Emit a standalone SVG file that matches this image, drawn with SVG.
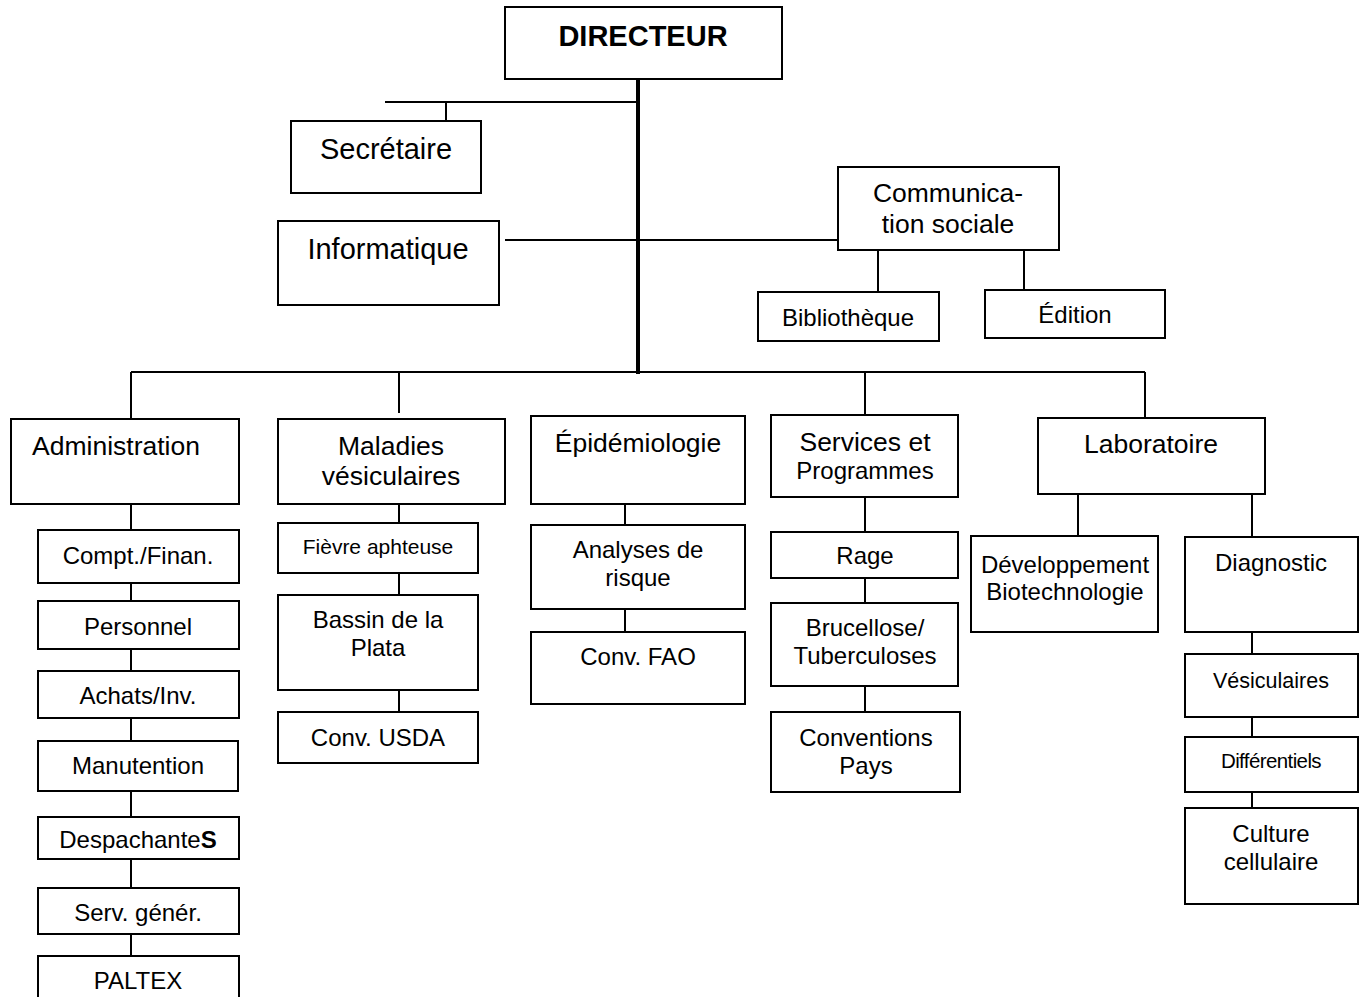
<svg xmlns="http://www.w3.org/2000/svg" width="1365" height="997" viewBox="0 0 1365 997">
<style>
rect{fill:#fff;stroke:#000;stroke-width:2}
text{font-family:"Liberation Sans",Arial,sans-serif;fill:#000;text-anchor:middle}
.x{font-size:29px}
.l{font-size:26.5px}
.m{font-size:24px}
.s{font-size:21.5px}
#conn line{stroke:#000;stroke-width:2}
</style>
<rect x="0" y="0" width="1365" height="997" style="fill:#fff;stroke:none"/>
<g id="conn">
<line x1="638" y1="80" x2="638" y2="374" style="stroke-width:4"/>
<line x1="385" y1="102" x2="638" y2="102"/>
<line x1="446" y1="102" x2="446" y2="121"/>
<line x1="505" y1="240" x2="838" y2="240"/>
<line x1="878" y1="250" x2="878" y2="292"/>
<line x1="1024" y1="250" x2="1024" y2="290"/>
<line x1="131" y1="372" x2="1145" y2="372"/>
<line x1="131" y1="372" x2="131" y2="419"/>
<line x1="399" y1="372" x2="399" y2="413"/>
<line x1="865" y1="372" x2="865" y2="415"/>
<line x1="1145" y1="372" x2="1145" y2="418"/>
<line x1="131" y1="504" x2="131" y2="956"/>
<line x1="399" y1="504" x2="399" y2="712"/>
<line x1="625" y1="504" x2="625" y2="632"/>
<line x1="865" y1="497" x2="865" y2="712"/>
<line x1="1078" y1="494" x2="1078" y2="536"/>
<line x1="1252" y1="494" x2="1252" y2="537"/>
<line x1="1252" y1="632" x2="1252" y2="808"/>
</g>
<g id="directeur"><rect x="505" y="7" width="277" height="72"/><text class="x" x="643" y="46" style="font-weight:bold">DIRECTEUR</text></g>
<g id="secretaire"><rect x="291" y="121" width="190" height="72"/><text class="x" x="386" y="159">Secrétaire</text></g>
<g id="informatique"><rect x="278" y="221" width="221" height="84"/><text class="x" x="388" y="259">Informatique</text></g>
<g id="communication"><rect x="838" y="167" width="221" height="83"/><text class="l" x="948" y="202">Communica-</text><text class="l" x="948" y="233">tion sociale</text></g>
<g id="bibliotheque"><rect x="758" y="292" width="181" height="49"/><text class="m" x="848" y="326">Bibliothèque</text></g>
<g id="edition"><rect x="985" y="290" width="180" height="48"/><text class="m" x="1075" y="323">Édition</text></g>
<g id="administration"><rect x="11" y="419" width="228" height="85"/><text class="l" x="116" y="455">Administration</text></g>
<g id="maladies"><rect x="278" y="419" width="227" height="85"/><text class="l" x="391" y="455">Maladies</text><text class="l" x="391" y="485">vésiculaires</text></g>
<g id="epidemiologie"><rect x="531" y="416" width="214" height="88"/><text class="l" x="638" y="452">Épidémiologie</text></g>
<g id="services"><rect x="771" y="415" width="187" height="82"/><text class="l" x="865" y="451">Services et</text><text class="m" x="865" y="479">Programmes</text></g>
<g id="laboratoire"><rect x="1038" y="418" width="227" height="76"/><text class="l" x="1151" y="453">Laboratoire</text></g>
<g id="compt"><rect x="38" y="530" width="201" height="53"/><text class="m" x="138" y="564">Compt./Finan.</text></g>
<g id="personnel"><rect x="38" y="601" width="201" height="48"/><text class="m" x="138" y="635">Personnel</text></g>
<g id="achats"><rect x="38" y="671" width="201" height="47"/><text class="m" x="138" y="704">Achats/Inv.</text></g>
<g id="manutention"><rect x="38" y="741" width="200" height="50"/><text class="m" x="138" y="774">Manutention</text></g>
<g id="despachantes"><rect x="38" y="817" width="201" height="42"/><text class="m" x="138" y="848">Despachante<tspan style="font-weight:bold">S</tspan></text></g>
<g id="servgener"><rect x="38" y="888" width="201" height="46"/><text class="m" x="138" y="921">Serv. génér.</text></g>
<g id="paltex"><rect x="38" y="956" width="201" height="50"/><text class="m" x="138" y="989">PALTEX</text></g>
<g id="fievre"><rect x="278" y="523" width="200" height="50"/><text x="378" y="554" style="font-size:21px">Fièvre aphteuse</text></g>
<g id="bassin"><rect x="278" y="595" width="200" height="95"/><text class="m" x="378" y="628">Bassin de la</text><text class="m" x="378" y="656">Plata</text></g>
<g id="usda"><rect x="278" y="712" width="200" height="51"/><text class="m" x="378" y="746">Conv. USDA</text></g>
<g id="analyses"><rect x="531" y="525" width="214" height="84"/><text class="m" x="638" y="558">Analyses de</text><text class="m" x="638" y="586">risque</text></g>
<g id="fao"><rect x="531" y="632" width="214" height="72"/><text class="m" x="638" y="665">Conv. FAO</text></g>
<g id="rage"><rect x="771" y="532" width="187" height="46"/><text class="m" x="865" y="564">Rage</text></g>
<g id="brucellose"><rect x="771" y="603" width="187" height="83"/><text class="m" x="865" y="636">Brucellose/</text><text class="m" x="865" y="664">Tuberculoses</text></g>
<g id="conventions"><rect x="771" y="712" width="189" height="80"/><text class="m" x="866" y="746">Conventions</text><text class="m" x="866" y="774">Pays</text></g>
<g id="developpement"><rect x="971" y="536" width="187" height="96"/><text class="m" x="1065" y="573">Développement</text><text class="m" x="1065" y="600">Biotechnologie</text></g>
<g id="diagnostic"><rect x="1185" y="537" width="173" height="95"/><text class="m" x="1271" y="571">Diagnostic</text></g>
<g id="vesiculaires"><rect x="1185" y="654" width="173" height="63"/><text class="s" x="1271" y="688">Vésiculaires</text></g>
<g id="differentiels"><rect x="1185" y="737" width="173" height="55"/><text x="1271" y="768" style="font-size:20.5px;letter-spacing:-0.6px">Différentiels</text></g>
<g id="culture"><rect x="1185" y="808" width="173" height="96"/><text class="m" x="1271" y="842">Culture</text><text class="m" x="1271" y="870">cellulaire</text></g>
</svg>
